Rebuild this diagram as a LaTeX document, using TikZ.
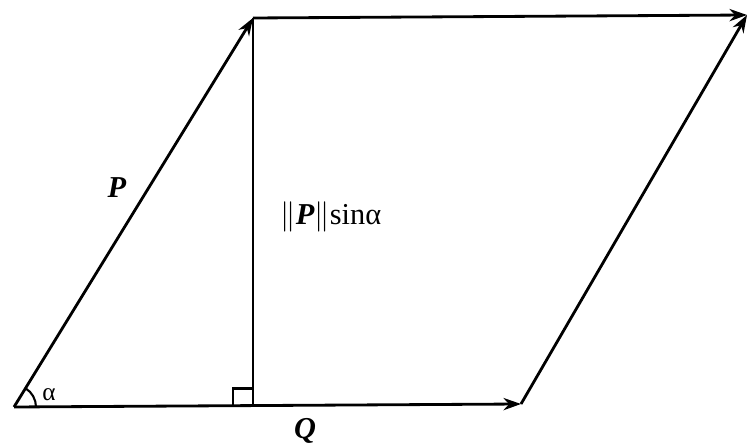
\documentclass[tikz,border=0pt]{standalone}
\usepackage{amsmath,amssymb}
\usepackage{fontspec}
\setmainfont{Liberation Serif}
\usetikzlibrary{arrows,arrows.meta}

\begin{document}
\begin{tikzpicture}[
vec/.style={font=\LARGE\bfseries\itshape},
arrowlabel/.style={font=\Large,inner sep=1pt},
arrow/.style={-{Stealth[length=10pt,width=7pt]},line width=1.6pt},
edge/.style={line width=1.6pt} ]

\useasboundingbox (0,0) rectangle (15,8.92);

\coordinate (O) at (0.28,0.78);
\coordinate (B) at (10.42,0.84);
\coordinate (C) at (5.06,8.56);
\coordinate (D) at (14.94,8.62);
\coordinate (F) at (5.06,0.79);

\draw[arrow] (O) -- (C);
\draw[arrow] (O) -- (B);
\draw[arrow] (C) -- (D);
\draw[arrow] (B) -- (D);
\draw[edge] (C) -- (F);

% right angle
\draw[line width=1.2pt] ([xshift=-0.4cm]F) -- ++(0,0.36) -- ++(0.4,0);

% angle
\draw[line width=1.2pt] ([xshift=0.44cm]O) arc (0:58:0.44);

\node[vec] (p) at (2.34,5.16) {P};
\node[vec] (q) at (6.1,0.3) {Q};
\node[arrowlabel] (a) at (0.98,1.02) {α};
\node[arrowlabel,font=\LARGE] (h) at (6.62,4.58) {$\|$\textbf{\textit{P}}$\|$sinα};

\end{tikzpicture}
\end{document}
